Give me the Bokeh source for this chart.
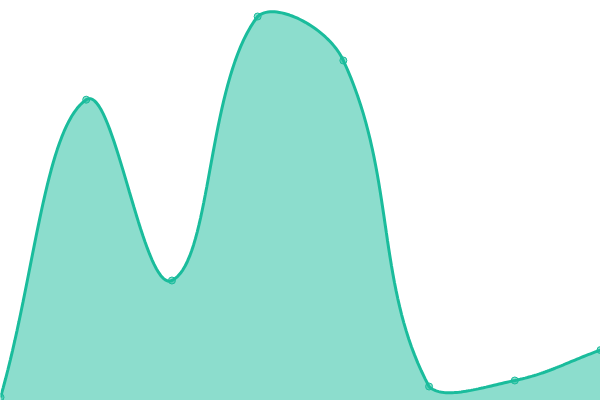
import numpy as np
from bokeh.plotting import figure
from bokeh.models import Range1d, ColumnDataSource
from bokeh.embed import file_html
from bokeh.resources import INLINE

# Data
categories = ["A", "B", "C", "D", "E", "F", "G", "H"]
values = [0.8, 75.2, 30.0, 96.0, 85.0, 3.5, 5.0, 12.6]

LINE = "#1abc9c"
FILL = "rgba(26,188,156,0.5)"

W, H = 600, 400
Y_MAX = 100.0
n = len(categories)
x_idx = np.arange(n, dtype=float)
y_val = np.array(values, dtype=float)

# Chart.js-like bezier spline (tension 0.4) computed in screen space
sx = W / (n - 1)
sy = H / Y_MAX
px = x_idx * sx
py = (Y_MAX - y_val) * sy
t = 0.4
cp_prev = np.zeros((n, 2))
cp_next = np.zeros((n, 2))
for i in range(n):
    pr = (px[max(i - 1, 0)], py[max(i - 1, 0)])
    cu = (px[i], py[i])
    nx = (px[min(i + 1, n - 1)], py[min(i + 1, n - 1)])
    d01 = np.hypot(cu[0] - pr[0], cu[1] - pr[1])
    d12 = np.hypot(nx[0] - cu[0], nx[1] - cu[1])
    s01 = d01 / (d01 + d12) if d01 + d12 else 0
    s12 = d12 / (d01 + d12) if d01 + d12 else 0
    fa, fb = t * s01, t * s12
    cp_prev[i] = (cu[0] - fa * (nx[0] - pr[0]), cu[1] - fa * (nx[1] - pr[1]))
    cp_next[i] = (cu[0] + fb * (nx[0] - pr[0]), cu[1] + fb * (nx[1] - pr[1]))
cp_prev[:, 0] = np.clip(cp_prev[:, 0], 0, W)
cp_next[:, 0] = np.clip(cp_next[:, 0], 0, W)
cp_prev[:, 1] = np.clip(cp_prev[:, 1], 0, H)
cp_next[:, 1] = np.clip(cp_next[:, 1], 0, H)

cx, cy = [], []
tt = np.linspace(0, 1, 40)
for i in range(n - 1):
    p0 = np.array([px[i], py[i]])
    p1 = cp_next[i]
    p2 = cp_prev[i + 1]
    p3 = np.array([px[i + 1], py[i + 1]])
    seg = ((1 - tt) ** 3)[:, None] * p0 + (3 * (1 - tt) ** 2 * tt)[:, None] * p1 \
        + (3 * (1 - tt) * tt ** 2)[:, None] * p2 + (tt ** 3)[:, None] * p3
    if i > 0:
        seg = seg[1:]
    cx.extend(seg[:, 0])
    cy.extend(seg[:, 1])
curve_x = np.array(cx) / sx
curve_y = Y_MAX - np.array(cy) / sy

p = figure(width=W, height=H, output_backend="svg", toolbar_location=None,
           x_range=Range1d(0, n - 1), y_range=Range1d(0, Y_MAX), min_border=0)
p.axis.visible = False
p.grid.visible = False
p.outline_line_color = None
p.background_fill_color = "white"
p.border_fill_color = "white"

p.varea(x=curve_x, y1=np.zeros_like(curve_y), y2=curve_y, fill_color=FILL)
p.line(x=curve_x, y=curve_y, line_color=LINE, line_width=3)
src = ColumnDataSource(dict(x=x_idx, y=y_val, cat=categories))
p.scatter(x="x", y="y", source=src, size=7, fill_color=FILL, line_color=LINE, line_width=1)

open("out.html", "w").write(file_html(p, INLINE))
